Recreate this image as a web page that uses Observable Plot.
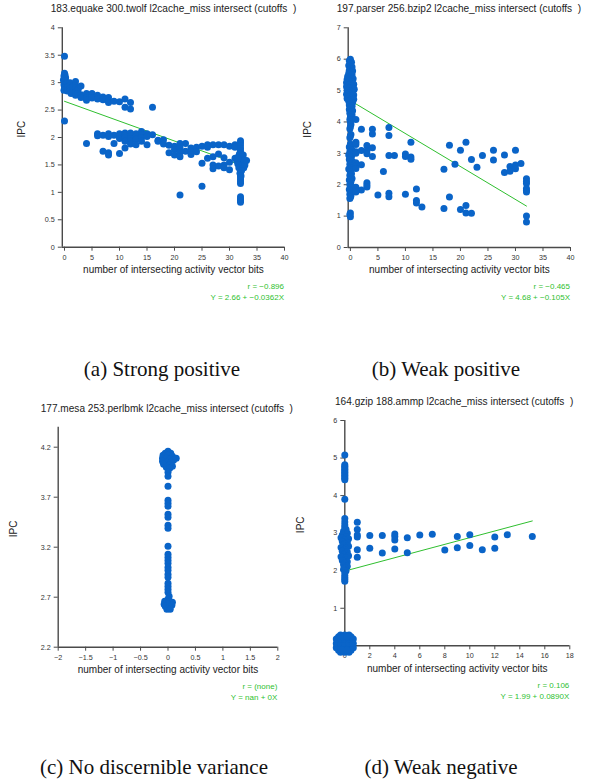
<!DOCTYPE html>
<html><head><meta charset="utf-8">
<script src="https://cdn.jsdelivr.net/npm/d3@7"></script>
<script src="https://cdn.jsdelivr.net/npm/@observablehq/plot@0.6"></script>
<style>
body{margin:0;background:#fff;}
#root{position:relative;width:590px;height:779px;overflow:hidden;font-family:"Liberation Sans",Arial,sans-serif;background:#fff;}
.title{position:absolute;font-size:10.1px;line-height:10.1px;color:#222;white-space:pre;}
.stat{position:absolute;font-size:8px;line-height:8px;color:#2fbf2f;white-space:pre;text-align:right;}
.cap{position:absolute;font-family:"Liberation Serif","Times New Roman",serif;font-size:21px;line-height:21px;color:#111;white-space:nowrap;transform:translateX(-50%);}
.panel{position:absolute;}
.panel svg{overflow:visible;}
</style></head><body><div id="root"></div><script>
// ---------- data ----------
const titles = [
  "183.equake 300.twolf l2cache_miss intersect (cutoffs  )",
  "197.parser 256.bzip2 l2cache_miss intersect (cutoffs  )",
  "177.mesa 253.perlbmk l2cache_miss intersect (cutoffs  )",
  "164.gzip 188.ammp l2cache_miss intersect (cutoffs  )"
];
const captions = ["(a) Strong positive", "(b) Weak positive", "(c) No discernible variance", "(d) Weak negative"];
const rTexts = ["r = \u22120.896", "r = \u22120.465", "r = (none)", "r = 0.106"];
const fitTexts = ["Y = 2.66 + \u22120.0362X", "Y = 4.68 + \u22120.105X", "Y = nan + 0X", "Y = 1.99 + 0.0890X"];
const xLabel = "number of intersecting activity vector bits";
const yLabel = "IPC";

// regression coefficients [intercept, slope] and x extent of the fitted line
const fitA = [2.66, -0.0362], fitARange = [0, 33];
const fitB = [4.68, -0.105],  fitBRange = [0, 32];
const fitD = [1.99, 0.0890],  fitDRange = [0, 15];

// ticks
const xTicksA = [0,5,10,15,20,25,30,35,40], yTicksA = [0,0.5,1,1.5,2,2.5,3,3.5,4];
const xTicksB = [0,5,10,15,20,25,30,35,40], yTicksB = [0,1,2,3,4,5,6,7];
const xTicksC = [-2,-1.5,-1,-0.5,0,0.5,1,1.5,2], yTicksC = [2.2,2.7,3.2,3.7,4.2];
const xTicksD = [0,2,4,6,8,10,12,14,16,18], yTicksD = [0,1,2,3,4,5,6];

// points [x, IPC]
const ptsA = [
  [0,3.48],[0,3.17],[0.1,3.14],[-0.1,3.12],[0.2,3.09],[0,3.07],[-0.2,3.05],[0.1,3.03],[0,3.0],[0.2,2.98],[-0.1,2.96],[0.1,2.93],[0,2.9],[0.3,2.88],[-0.1,2.86],[0,2.3],
  [0.5,3.0],[0.6,2.92],[0.5,2.85],[1,3.0],[1,2.95],[1,2.9],[1,2.85],[1.2,2.8],[1.5,2.92],[1.5,2.84],[2,3.02],[2,2.95],[2,2.9],[2,2.83],[2,2.77],[2.5,2.88],[2.4,2.8],
  [3,2.94],[3,2.78],[3,2.73],[4,2.8],[4,2.72],[4,2.68],[5,2.8],[5,2.72],[6,2.77],[6,2.7],[7,2.74],[7,2.69],[8,2.73],[8,2.67],[8,2.64],[9,2.66],[10,2.65],[11,2.7],[11,2.55],[12,2.64],[12,2.52],[16,2.55],
  [4,1.89],[6,2.07],[6,2.03],[7,2.04],[7,1.75],[8,2.07],[8,2.02],[8,1.72],[8,1.68],[9,2.04],[9,1.89],[10,2.07],[10,2.03],[10,1.98],[10,1.71],
  [11,2.08],[11,2.04],[11,2.0],[11,1.93],[11,1.81],[12,2.08],[12,2.03],[12,1.98],[12,1.93],[12,1.88],[13,2.07],[13,2.02],[13,1.97],[13,1.87],
  [14,2.11],[14,2.05],[14,2.0],[14,1.93],[15,2.07],[15,2.02],[15,1.87],[16,2.05],[17,1.95],[17,1.93],[18,1.96],[18,1.88],[19,1.86],[19,1.72],
  [20,1.84],[20,1.78],[20,1.68],[21,1.89],[21,1.81],[21,1.73],[21,1.65],[21,0.95],[22,1.89],[22,1.75],[23,1.81],[23,1.75],[23,1.69],[24,1.82],[24,1.74],
  [25,1.84],[25,1.53],[25,1.11],[26,1.87],[26,1.82],[26,1.62],[27,1.87],[27,1.65],[27,1.5],[27,1.43],[28,1.87],[28,1.7],[28,1.48],
  [29,1.87],[29,1.63],[29,1.5],[29,1.45],[30,1.84],[30,1.55],[30,1.41],[31,1.87],[31,1.82],[31,1.62],
  [32,1.94],[32,1.9],[32,1.85],[32,1.8],[32,1.76],[32,1.72],[32,1.68],[32,1.64],[32,1.6],[32,1.56],[32,1.52],[32,1.48],[32,1.44],[32,1.4],[32,1.36],[32,1.32],[32,1.28],[32,1.24],[32,1.2],[32,1.16],[32,0.92],[32,0.88],[32,0.85],[32,0.82],
  [31.3,1.58],[31.5,1.52],[31.6,1.65],[31.7,1.45],[31.8,1.7],[32.3,1.62],[32.4,1.5],[32.5,1.68],[32.6,1.45],[32.7,1.57],[32.8,1.5],[33.1,1.58],[31.5,1.62],[32.2,1.4],[31.9,1.35],[32.1,1.3]
];
const ptsB = [
  [0,6.0],[-0.2,5.95],[0.2,5.9],[0,5.85],[-0.3,5.8],[0.3,5.75],[0,5.7],[-0.2,5.65],[0.4,5.62],[0.1,5.58],[-0.3,5.55],[0.3,5.5],[-0.5,5.45],[0.1,5.42],[0.5,5.38],[-0.6,5.35],[-0.2,5.32],[0.3,5.28],
  [-0.7,5.25],[0,5.22],[0.6,5.2],[-0.4,5.18],[0.2,5.15],[-0.7,5.12],[0.5,5.1],[-0.2,5.07],[0.7,5.04],[-0.6,5.0],[0.1,4.98],[0.4,4.95],[-0.4,4.92],[-0.7,4.88],[0.6,4.86],[0,4.84],
  [-0.3,4.8],[0.3,4.78],[-0.6,4.75],[0.6,4.72],[0,4.7],[-0.3,4.66],[0.4,4.62],[0,4.58],[-0.2,4.54],[0.3,4.5],[0,4.45],[-0.2,4.4],[0.4,4.36],[0.1,4.32],[-0.1,4.28],
  [0.3,4.22],[0,4.15],[-0.1,4.08],[0,4.0],[0.1,3.92],[0,3.85],[-0.1,3.78],[0.1,3.6],[0,3.55],[-0.1,3.5],
  [0,3.3],[0.2,3.25],[-0.2,3.2],[0,3.15],[0.3,3.1],[-0.1,3.05],[0.1,3.0],[-0.3,2.95],[0.2,2.9],[0,2.85],[-0.2,2.8],[0.3,2.75],[0,2.7],[-0.1,2.65],[0.2,2.6],[0,2.55],[-0.3,2.5],
  [0.1,2.45],[0,2.4],[0.2,2.35],[-0.1,2.3],[0,2.25],[0.3,2.2],[-0.2,2.15],[0.1,2.1],[0,2.05],[-0.1,2.0],[0.2,1.95],[0,1.9],[-0.2,1.85],[0.1,1.8],[0,1.75],[-0.1,1.7],[0.1,1.65],[0,1.6],[-0.1,1.56],
  [0,1.1],[-0.1,1.05],[0,0.98],
  [1,4.08],[2,3.77],[4,3.77],[4,3.62],[7,3.82],[7,3.57],[1,3.35],[1,3.28],[1,3.05],[1,3.0],[2,3.09],[3,3.25],[3,3.08],[3,2.99],[4,3.18],[4,2.9],[7,2.93],[8,2.93],
  [10,2.98],[10,2.9],[11,3.35],[11,2.88],[11,2.81],[6,2.42],[1,2.7],[1,2.6],[1,2.52],[2,2.64],[3,2.06],[3,1.99],[3,1.93],[2,1.83],[1,1.92],[1,1.82],[1,1.77],
  [5,1.67],[7,1.73],[7,1.62],[10,1.7],[12,1.86],[12,1.5],[12,1.42],[13,1.29],[17,2.49],[17,1.24],[18,3.26],[18,1.61],[19,2.65],[20,3.1],[20,1.21],
  [21,3.35],[21,1.34],[21,1.1],[22,2.8],[22,1.09],[23,2.56],[24,2.93],[26,3.1],[26,2.79],[28,2.95],[28,2.39],[29,2.58],[29,2.43],[30,3.1],[30,2.63],[30,2.51],[31,2.68],
  [32,2.19],[32,2.1],[32,2.04],[32,1.88],[32,1.82],[32,1.77],[32,1.0],[32,0.81]
];
const ptsC = [
  [0,4.16],[-0.05,4.14],[0.05,4.14],[-0.09,4.12],[0,4.12],[0.08,4.11],[-0.1,4.09],[-0.03,4.09],[0.04,4.08],[0.15,4.09],[0.1,4.07],[-0.1,4.06],[-0.02,4.05],[0.06,4.05],[-0.08,4.03],[0.02,4.02],[0.08,4.01],[-0.03,4.0],[0.03,3.99],
  [0,3.95],[0,3.91],[0,3.81],[0,3.67],[0,3.64],[0,3.61],[0,3.53],[0,3.5],[0,3.42],[0,3.39],[0,3.21],[0,3.13],[0,3.1],[0,3.07],[0,3.04],[0,3.0],[0,2.97],[0,2.93],[0,2.9],
  [0,2.84],[0,2.81],[0,2.78],[0,2.75],[0.02,2.71],[0,2.68],
  [-0.06,2.66],[0.03,2.66],[0.08,2.65],[-0.07,2.63],[0,2.63],[0.07,2.62],[-0.05,2.61],[0.03,2.6],[-0.02,2.58],[0.04,2.58]
];
const ptsD = [
  [0,5.08],[0,4.82],[0,4.78],[0,4.74],[0,4.7],[0,4.66],[0,4.62],[0,4.58],[0,4.54],[0,4.5],[0,4.46],[0,4.42],[0,3.9],[0,3.39],[0,3.3],[0,3.22],[0,3.16],
  [0.1,3.1],[-0.1,3.05],[0.2,3.0],[-0.2,2.95],[0.1,2.9],[-0.3,2.88],[0.3,2.85],[0,2.82],[-0.2,2.78],[0.2,2.75],[0,2.72],[-0.1,2.68],[0.3,2.65],[-0.3,2.62],[0.1,2.6],
  [0,2.56],[-0.2,2.52],[0.2,2.5],[0,2.46],[-0.1,2.42],[0.3,2.4],[-0.3,2.37],[0.1,2.34],[0,2.3],[-0.2,2.27],[0.2,2.24],[0,2.2],[-0.1,2.16],[0.2,2.12],[0,2.08],[-0.1,2.04],[0.1,2.0],
  [0,1.95],[0,1.88],[0,1.82],[0,1.77],[0,1.72],
  [1,3.29],[1,3.1],[1,2.95],[1,2.9],[1,2.56],[1,2.36],[2,2.94],[2,2.6],[3,2.94],[3,2.47],[4,2.98],[4,2.91],[4,2.82],[4,2.58],[5,2.88],[5,2.48],[6,2.95],[7,2.97],
  [8,2.55],[9,2.91],[9,2.61],[10,2.96],[10,2.67],[11,2.56],[12,2.9],[12,2.6],[13,2.96],[15,2.91],
  [-0.5,-0.12],[-0.68,-0.05],[-0.68,0.06],[-0.68,0.18],[-0.5,0.24],[-0.34,-0.17],[-0.34,-0.05],[-0.34,0.06],[-0.34,0.18],[-0.34,0.29],
  [0,-0.17],[0,-0.05],[0,0.06],[0,0.18],[0,0.29],[0.34,-0.17],[0.34,-0.05],[0.34,0.06],[0.34,0.18],[0.34,0.29],
  [0.5,-0.12],[0.68,-0.05],[0.68,0.06],[0.68,0.18],[0.5,0.24],[-0.17,0.24],[0.17,0.24],[-0.17,-0.11],[0.17,-0.11]
];

// ---------- drawing ----------
const BLUE = "#0a64c8", GREEN = "#2fbf2f", AXIS = "#4a4a4a", TEXT = "#333";
const fmt = d3.format("~g");
const root = document.getElementById("root");

function fitLine(fit, range) {
  return range.map(x => ({x, y: fit[0] + fit[1] * x}));
}

function panel(cfg) {
  const pts = cfg.pts.map(([x, y]) => ({x, y}));
  const marks = [
    Plot.ruleY([cfg.yDomain[0]], {x1: cfg.xDomain[0], x2: cfg.xDomain[1], stroke: AXIS, strokeWidth: 1.4}),
    Plot.ruleX([cfg.xDomain[0]], {y1: cfg.yDomain[0], y2: cfg.yDomain[1], stroke: AXIS, strokeWidth: 1.4}),
    Plot.axisX({ticks: cfg.xTicks, tickFormat: fmt, tickSize: 4, tickPadding: 3.5, label: null, stroke: AXIS, fill: TEXT, fontSize: 7.2}),
    Plot.axisY({ticks: cfg.yTicks, tickFormat: fmt, tickSize: 4, tickPadding: 3.5, label: null, stroke: AXIS, fill: TEXT, fontSize: 7.2}),
    Plot.text([xLabel], {frameAnchor: "bottom", dy: cfg.xLabDy, fontSize: 10, fill: "#222"}),
    Plot.text([yLabel], {frameAnchor: "left", dx: cfg.yLabDx, rotate: -90, fontSize: 10, fill: "#222"})
  ];
  if (cfg.fit) marks.push(Plot.line(fitLine(cfg.fit, cfg.fitRange), {x: "x", y: "y", stroke: GREEN, strokeWidth: 1}));
  marks.push(Plot.dot(pts, {x: "x", y: "y", r: 3.5, fill: BLUE, stroke: null}));
  const svg = Plot.plot({
    width: 295, height: 310,
    marginLeft: cfg.m[0], marginRight: cfg.m[1], marginTop: cfg.m[2], marginBottom: cfg.m[3],
    x: {domain: cfg.xDomain}, y: {domain: cfg.yDomain},
    style: {fontFamily: "'Liberation Sans', Arial, sans-serif", background: "transparent", color: TEXT},
    marks
  });
  const div = document.createElement("div");
  div.className = "panel";
  div.style.left = cfg.left + "px"; div.style.top = cfg.top + "px";
  div.appendChild(svg);
  root.appendChild(div);
}

panel({left: 0, top: 0, pts: ptsA, xDomain: [-0.4, 40], yDomain: [0, 4], xTicks: xTicksA, yTicks: yTicksA,
  m: [61.8, 11, 27.3, 63.3], xLabDy: 26, yLabDx: -40.8, fit: fitA, fitRange: fitARange});
panel({left: 295, top: 0, pts: ptsB, xDomain: [-0.4, 40], yDomain: [0, 7], xTicks: xTicksB, yTicks: yTicksB,
  m: [52.7, 20, 27.3, 63], xLabDy: 25.7, yLabDx: -40.7, fit: fitB, fitRange: fitBRange});
panel({left: 0, top: 390, pts: ptsC, xDomain: [-2, 2], yDomain: [2.2, 4.4], xTicks: xTicksC, yTicks: yTicksC,
  m: [57.7, 17.7, 36.7, 53.3], xLabDy: 26, yLabDx: -44.4, fit: null});
panel({left: 295, top: 390, pts: ptsD, xDomain: [0, 18], yDomain: [0, 6], xTicks: xTicksD, yTicks: yTicksD,
  m: [49.3, 20.7, 30, 54.7], xLabDy: 26.4, yLabDx: -44.3, fit: fitD, fitRange: fitDRange});

// titles, fit statistics and captions
const titlePos = [[50.7, 3.8], [336.7, 3.8], [40.7, 403.8], [335, 396.8]];
titles.forEach((t, i) => {
  const d = document.createElement("div");
  d.className = "title"; d.textContent = t;
  d.style.left = titlePos[i][0] + "px"; d.style.top = titlePos[i][1] + "px";
  root.appendChild(d);
});
const statRight = [284, 570, 277.3, 569.3];
const statTop = [[283.2, 293.8], [283.2, 293.8], [683.2, 693.8], [682.2, 693.2]];
rTexts.forEach((t, i) => {
  [t, fitTexts[i]].forEach((s, j) => {
    const d = document.createElement("div");
    d.className = "stat"; d.textContent = s;
    d.style.right = (590 - statRight[i]) + "px"; d.style.top = statTop[i][j] + "px";
    root.appendChild(d);
  });
});
const capPos = [[162, 358.6], [446, 358.6], [154, 757], [441, 757]];
captions.forEach((t, i) => {
  const d = document.createElement("div");
  d.className = "cap"; d.textContent = t;
  d.style.left = capPos[i][0] + "px"; d.style.top = capPos[i][1] + "px";
  root.appendChild(d);
});
</script></body></html>
